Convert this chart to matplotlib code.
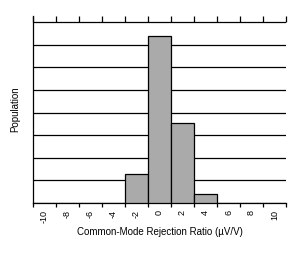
import matplotlib
matplotlib.use("Agg")
import matplotlib.pyplot as plt

plt.rcParams['font.family'] = ['Liberation Sans', 'DejaVu Sans']

# histogram bins (µV/V) and population (in gridline units)
bin_centers = [-10, -8, -6, -4, -2, 0, 2, 4, 6, 8, 10]
population = [0, 0, 0, 0, 1.28, 7.37, 3.53, 0.38, 0, 0, 0]
tick_labels = ['-10', '-8', '-6', '-4', '-2', '0', '2', '4', '6', '8', '10']
bin_edges = [-11, -9, -7, -5, -3, -1, 1, 3, 5, 7, 9, 11]
grid_levels = [1, 2, 3, 4, 5, 6, 7, 8]

fig = plt.figure(figsize=(3.07, 2.54), dpi=100)
ax = fig.add_axes([0.1075, 0.2008, 0.8241, 0.7362])

ax.bar(bin_centers, population, width=2, color='#aaaaaa', edgecolor='black',
       linewidth=0.9, zorder=3)

for g in grid_levels:
    ax.axhline(g, color='black', linewidth=0.9, zorder=1)

ax.set_xlim(-11, 11)
ax.set_ylim(0, 8.27)
ax.set_yticks([])

ax.set_xticks(bin_edges)
ax.set_xticklabels([])
ax.tick_params(axis='x', which='major', direction='out', length=3, width=0.9)
ax.set_xticks(bin_centers, tick_labels, minor=True, rotation=90, fontsize=6.5)
ax.tick_params(axis='x', which='minor', length=0, pad=5)

top = ax.secondary_xaxis('top')
top.set_xticks(bin_edges)
top.set_xticklabels([])
top.tick_params(direction='in', length=4.5, width=0.9)
for s in top.spines.values():
    s.set_visible(False)

ax.spines['top'].set_visible(False)
ax.spines['right'].set_visible(False)
ax.spines['left'].set_linewidth(0.9)
ax.spines['bottom'].set_linewidth(0.9)

ax.set_xlabel('Common-Mode Rejection Ratio (µV/V)', fontsize=7, labelpad=3)
ax.set_ylabel('Population', fontsize=7, labelpad=9)

fig.savefig('out.png', dpi=100)
